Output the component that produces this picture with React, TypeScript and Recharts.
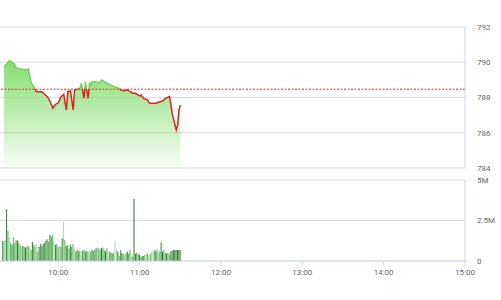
import { ComposedChart, Area, XAxis, YAxis, CartesianGrid, ReferenceLine, BarChart, Bar, Cell } from 'recharts';

// khớp lệnh theo phút, phiên sáng
const priceTimes = [
  '09:20', '09:24', '09:27', '09:29', '09:32', '09:36', '09:38', '09:39', '09:40', '09:42',
  '09:43', '09:44', '09:48', '09:49', '09:52', '09:54', '09:56', '09:58', '10:00', '10:02',
  '10:04', '10:06', '10:07', '10:09', '10:11', '10:12', '10:14', '10:16', '10:17', '10:19',
  '10:20', '10:22', '10:23', '10:24', '10:25', '10:27', '10:30', '10:32', '10:35', '10:37',
  '10:40', '10:42', '10:45', '10:46', '10:48', '10:51', '10:53', '10:55', '10:57', '11:00',
  '11:01', '11:03', '11:06', '11:07', '11:09', '11:12', '11:14', '11:17', '11:19', '11:22',
  '11:23', '11:24', '11:27', '11:28', '11:29', '11:30',
];
const priceValues = [
  789.75, 790.09, 789.94, 789.69, 789.62, 789.56, 789.62, 789.18, 788.81, 788.61,
  788.43, 788.33, 788.33, 788.24, 788.05, 787.76, 787.39, 787.61, 787.7, 788.05,
  788.18, 787.29, 788.33, 788.37, 787.29, 788.43, 788.48, 788.52, 788.81, 787.95,
  788.9, 787.95, 788.81, 788.71, 788.9, 788.9, 788.81, 788.99, 788.84, 788.77,
  788.65, 788.58, 788.52, 788.43, 788.39, 788.43, 788.33, 788.24, 788.24, 788.09,
  788.14, 787.95, 787.86, 787.7, 787.67, 787.67, 787.73, 787.8, 787.95, 788.05,
  787.67, 787.1, 786.16, 786.44, 787.29, 787.57,
];
const refPrice = 788.47;

// khối lượng (triệu cp) mỗi phút, từ 09:19
const volStart = '09:19';
const volumes = [
  1.23, 1.23, 1.3, 3.19, 1.85, 1.5, 1.13, 0.99, 1.46, 1.09,
  1.3, 1.26, 1.13, 0.93, 0.88, 0.93, 0.88, 0.84, 0.88, 0.93,
  0.84, 0.68, 1.19, 0.99, 0.88, 1.05, 0.58, 0.88, 1.05, 0.93,
  1.05, 1.13, 1.26, 1.34, 1.21, 1.6, 1.5, 1.6, 1.19, 0.99,
  1.05, 0.88, 0.93, 0.88, 1.4, 2.39, 1.3, 0.93, 0.99, 0.78,
  0.99, 0.88, 1.05, 0.68, 0.58, 0.68, 0.58, 0.64, 0.58, 0.64,
  0.68, 0.58, 0.62, 0.58, 0.51, 0.58, 0.68, 0.62, 0.68, 0.78,
  0.84, 0.78, 0.68, 0.78, 0.84, 0.68, 0.58, 0.78, 0.47, 0.58,
  0.51, 0.47, 0.51, 1.23, 0.72, 0.58, 0.31, 0.68, 0.51, 0.43,
  0.37, 0.47, 0.58, 0.47, 0.68, 0.37, 0.27, 3.83, 0.47, 0.51,
  0.43, 0.37, 0.27, 0.31, 0.31, 0.37, 0.43, 0.47, 0.37, 0.43,
  0.58, 0.62, 0.68, 0.58, 0.72, 0.51, 0.58, 1.14, 0.58, 0.68,
  0.51, 0.47, 0.51, 0.43, 0.58, 0.64, 0.68, 0.68, 0.68, 0.68,
  0.68, 0.68,
];
// d: đậm, m: vừa, l: nhạt
const volShades =
  'mmldmlmdmm' + 'mdmmldmdmm' + 'lmdmmlmdmd' + 'dmdmmdmmld' + 'mmlmdlmdmm' +
  'dmmlmdmmlm' + 'mdmmlmdmmd' + 'lmmdmmdmlm' + 'dmmlldmmdm' + 'lmdmmlmddm' +
  'mdmdmmlmlm' + 'llmdmlmddm' + 'mdmmmddd' + 'dd' + 'dd';

const timeTicks = ['10:00', '11:00', '12:00', '13:00', '14:00', '15:00'];
const priceTicks = [784, 786, 788, 790, 792];
const volTicks = [0, 2.5, 5];

const shadeColor: Record<string, string> = { d: '#2b7a2e', m: '#4cae4f', l: '#a8d9a4' };

const toMin = (s: string) => {
  const [h, m] = s.split(':').map(Number);
  return h * 60 + m;
};
const fmtTime = (v: number) =>
  `${String(Math.floor(v / 60)).padStart(2, '0')}:${String(v % 60).padStart(2, '0')}`;

const priceData = priceTimes.map((t, i) => ({ t: toMin(t), price: priceValues[i] }));
const volData = volumes.map((v, i) => ({ t: toMin(volStart) + i, vol: v }));

const xDomain = [557, 900];
const xTicks = timeTicks.map(toMin);
const tickStyle = { fontSize: 8, fill: '#666', fontFamily: 'Roboto' };
const refOffset = (792 - refPrice) / (792 - 784);

export default function App() {
  return (
    <div style={{ position: 'absolute', left: 0, top: 0, width: 501, height: 300, background: '#fff' }}>
      <div style={{ position: 'absolute', left: 0, top: 0 }}>
        <ComposedChart width={501} height={176} data={priceData} margin={{ top: 27, right: 0, left: 0, bottom: 8 }}>
          <defs>
            <linearGradient id="priceFill" x1="0" y1="0" x2="0" y2="1">
              <stop offset="0" stopColor="#7fdc68" stopOpacity={0.95} />
              <stop offset="1" stopColor="#7fdc68" stopOpacity={0.06} />
            </linearGradient>
            <linearGradient id="priceStroke" gradientUnits="userSpaceOnUse" x1="0" y1="27" x2="0" y2="168">
              <stop offset={refOffset} stopColor="#74d060" />
              <stop offset={refOffset} stopColor="#d8241c" />
            </linearGradient>
          </defs>
          <CartesianGrid vertical={false} stroke="#dcdcdc" />
          <XAxis hide type="number" dataKey="t" domain={xDomain} allowDataOverflow />
          <YAxis
            orientation="right"
            width={36}
            domain={[784, 792]}
            ticks={priceTicks}
            interval={0}
            allowDataOverflow
            axisLine={{ stroke: '#ccd6eb' }}
            tickLine={false}
            tickMargin={6}
            tick={tickStyle}
          />
          <Area
            type="linear"
            dataKey="price"
            baseValue={784}
            stroke="url(#priceStroke)"
            strokeWidth={1.5}
            fill="url(#priceFill)"
            fillOpacity={1}
            dot={false}
            activeDot={false}
            isAnimationActive={false}
          />
          <ReferenceLine y={refPrice} stroke="#e0302f" strokeDasharray="2 1.5" strokeWidth={1} />
        </ComposedChart>
      </div>
      <div style={{ position: 'absolute', left: 0, top: 170 }}>
        <BarChart width={501} height={130} data={volData} margin={{ top: 10, right: 0, left: 0, bottom: 0 }}>
          <CartesianGrid vertical={false} stroke="#dcdcdc" />
          <XAxis
            type="number"
            dataKey="t"
            domain={xDomain}
            allowDataOverflow
            ticks={xTicks}
            interval={0}
            tickFormatter={fmtTime}
            height={39}
            axisLine={{ stroke: '#ccd6eb' }}
            tickLine={{ stroke: '#ccd6eb' }}
            tickSize={5}
            tickMargin={3}
            tick={tickStyle}
          />
          <YAxis
            orientation="right"
            width={36}
            domain={[0, 5]}
            ticks={volTicks}
            interval={0}
            tickFormatter={(v: number) => (v === 0 ? '0' : `${v}M`)}
            axisLine={{ stroke: '#ccd6eb' }}
            tickLine={false}
            tickMargin={6}
            tick={tickStyle}
          />
          <Bar dataKey="vol" barSize={1} isAnimationActive={false}>
            {volData.map((d, i) => (
              <Cell key={d.t} fill={shadeColor[volShades[i] || 'm']} />
            ))}
          </Bar>
        </BarChart>
      </div>
    </div>
  );
}
